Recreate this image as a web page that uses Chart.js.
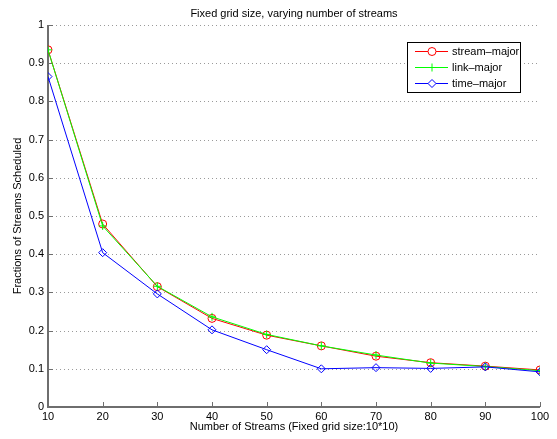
<!DOCTYPE html>
<html>
<head>
<meta charset="utf-8">
<script src="https://cdn.jsdelivr.net/npm/chart.js@4"></script>
<style>
  html, body { margin: 0; padding: 0; background: #fff; }
  #wrap { position: relative; width: 557px; height: 439px; }
</style>
</head>
<body>
<div id="wrap"><canvas id="chart" width="557" height="439"></canvas></div>
<script>
// ── DATA ──────────────────────────────────────────────────────
const streams      = [10, 20, 30, 40, 50, 60, 70, 80, 90, 100];
const streamMajor  = [0.935, 0.479, 0.315, 0.232, 0.188, 0.160, 0.133, 0.116, 0.107, 0.097];
const linkMajor    = [0.935, 0.474, 0.316, 0.236, 0.190, 0.160, 0.136, 0.115, 0.106, 0.095];
const timeMajor    = [0.865, 0.404, 0.296, 0.202, 0.150, 0.100, 0.103, 0.101, 0.105, 0.092];
const yTicks       = [0, 0.1, 0.2, 0.3, 0.4, 0.5, 0.6, 0.7, 0.8, 0.9, 1];

const FONT = "'Liberation Sans', Arial, Helvetica, sans-serif";
const AXIS = '#6e6e6e';

function pts(ys) { return streams.map((x, i) => ({ x, y: ys[i] })); }

// ── AXES, TITLES, LEGEND ──────────────────────────────────────
const decor = {
  id: 'decor',
  beforeDatasetsDraw(chart) {
    const { ctx, chartArea: a, scales: { x, y } } = chart;
    ctx.save();
    // dotted horizontal grid
    ctx.strokeStyle = '#9a9a9a';
    ctx.lineWidth = 1;
    ctx.setLineDash([1, 3]);
    yTicks.slice(1).forEach(v => {
      const py = Math.round(y.getPixelForValue(v)) + 0.5;
      ctx.beginPath(); ctx.moveTo(a.left, py); ctx.lineTo(a.right, py); ctx.stroke();
    });
    ctx.setLineDash([]);
    // axis lines
    ctx.strokeStyle = AXIS;
    ctx.lineWidth = 2;
    ctx.beginPath();
    ctx.moveTo(a.left, a.top); ctx.lineTo(a.left, a.bottom); ctx.lineTo(a.right, a.bottom);
    ctx.stroke();
    // inward ticks
    ctx.lineWidth = 1;
    yTicks.forEach(v => {
      const py = Math.round(y.getPixelForValue(v)) + 0.5;
      ctx.beginPath(); ctx.moveTo(a.left, py); ctx.lineTo(a.left + 5, py); ctx.stroke();
    });
    streams.forEach(v => {
      const px = Math.round(x.getPixelForValue(v)) + 0.5;
      ctx.beginPath(); ctx.moveTo(px, a.bottom); ctx.lineTo(px, a.bottom - 5); ctx.stroke();
    });
    ctx.restore();
  },
  afterDraw(chart) {
    const { ctx, chartArea: a } = chart;
    ctx.save();
    ctx.fillStyle = '#000';
    ctx.font = '11px ' + FONT;
    ctx.textAlign = 'center';
    ctx.textBaseline = 'middle';
    ctx.fillText('Fixed grid size, varying number of streams', (a.left + a.right) / 2, 14);
    ctx.fillText('Number of Streams (Fixed grid size:10*10)', (a.left + a.right) / 2, 427);
    ctx.translate(18, (a.top + a.bottom) / 2);
    ctx.rotate(-Math.PI / 2);
    ctx.fillText('Fractions of Streams Scheduled', 0, 0);
    ctx.restore();

    // legend box
    ctx.save();
    const bx = 407.5, by = 42.5, bw = 113, bh = 50;
    ctx.fillStyle = '#fff';
    ctx.fillRect(bx, by, bw, bh);
    ctx.strokeStyle = '#000';
    ctx.lineWidth = 1;
    ctx.strokeRect(bx, by, bw, bh);
    const rows = [51, 67, 83];
    chart.data.datasets.forEach((ds, i) => {
      const ry = rows[i] + 0.5;
      ctx.strokeStyle = ds.borderColor;
      ctx.lineWidth = 1;
      ctx.beginPath(); ctx.moveTo(415, ry); ctx.lineTo(448, ry); ctx.stroke();
      ctx.fillStyle = '#fff';
      Chart.helpers.drawPoint(ctx, {
        pointStyle: ds.pointStyle, radius: ds.pointRadius, borderWidth: 1
      }, 432, ry);
      ctx.fillStyle = '#000';
      ctx.font = '11px ' + FONT;
      ctx.textAlign = 'left';
      ctx.textBaseline = 'middle';
      ctx.fillText(ds.label, 452, ry);
    });
    ctx.restore();
  }
};

new Chart(document.getElementById('chart'), {
  type: 'line',
  data: {
    datasets: [
      { label: 'stream\u2013major', data: pts(streamMajor), borderColor: '#ff0000',
        pointStyle: 'circle', pointRadius: 4, order: 3 },
      { label: 'link\u2013major', data: pts(linkMajor), borderColor: '#00ff00',
        pointStyle: 'cross', pointRadius: 4, order: 2 },
      { label: 'time\u2013major', data: pts(timeMajor), borderColor: '#0000ff',
        pointStyle: 'rectRot', pointRadius: 4, order: 1 },
    ].map(d => ({
      ...d, borderWidth: 1, pointBorderColor: d.borderColor, pointBackgroundColor: 'rgba(0,0,0,0)',
      pointBorderWidth: 1, pointHoverRadius: 4, tension: 0, fill: false
    }))
  },
  options: {
    responsive: false,
    animation: false,
    layout: { padding: { top: 25, right: 17, left: 0, bottom: 0 } },
    plugins: { legend: { display: false }, tooltip: { enabled: false }, title: { display: false } },
    scales: {
      x: {
        type: 'linear', min: 10, max: 100,
        afterBuildTicks: s => { s.ticks = streams.map(v => ({ value: v })); },
        afterFit: s => { s.height = 32; },
        grid: { display: false, drawTicks: false },
        border: { display: false },
        ticks: { color: '#000', font: { family: FONT, size: 11 }, padding: 3, maxRotation: 0 }
      },
      y: {
        min: 0, max: 1,
        afterBuildTicks: s => { s.ticks = yTicks.map(v => ({ value: v })); },
        afterFit: s => { s.width = 48; },
        grid: { display: false, drawTicks: false },
        border: { display: false },
        ticks: { color: '#000', font: { family: FONT, size: 11 }, padding: 4,
                 callback: v => String(+v.toFixed(1)) }
      }
    }
  },
  plugins: [decor]
});
</script>
</body>
</html>
